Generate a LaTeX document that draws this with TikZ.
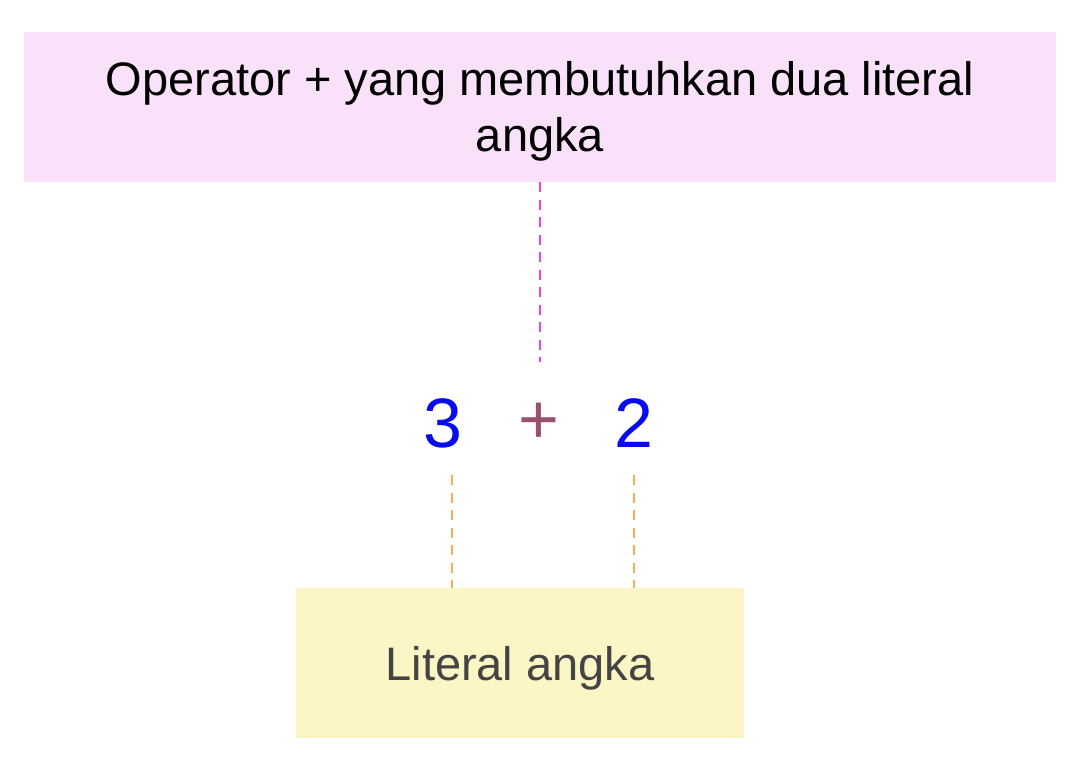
\documentclass[tikz,border=0pt]{standalone}
\usepackage{fontspec}
\setmainfont{Liberation Sans}
\begin{document}
\begin{tikzpicture}[x=1pt,y=-1pt,
  box/.style={draw=none,inner sep=0pt,align=center},
  label/.style={inner sep=0pt,align=center,font=\fontsize{47}{56}\selectfont},
  digit/.style={inner sep=0pt,font=\fontsize{70}{70}\selectfont},
  conn/.style={line width=2.6pt,dash pattern=on 10pt off 7.5pt}]
\definecolor{pinkfill}{HTML}{F9E1FA}
\definecolor{yellowfill}{HTML}{FCF5C5}
\definecolor{magline}{HTML}{E83EF5}
\definecolor{orline}{HTML}{F4AE4E}
\definecolor{numblue}{HTML}{0A0AF0}
\definecolor{opcol}{HTML}{9A5070}
\definecolor{darktext}{HTML}{444444}
\useasboundingbox (0,0) rectangle (1074,758);
\node[box,fill=pinkfill,minimum width=1032pt,minimum height=150pt] (op) at (540,107) {};
\node[label] (optext) at ([yshift=-4pt]op.center)
  {Operator + yang membutuhkan dua literal\\angka};
\node[box,fill=yellowfill,minimum width=448pt,minimum height=150pt] (lit) at (520,663) {};
\node[label,text=darktext] (littext) at ([yshift=-5pt]lit.center) {Literal angka};
\node[digit,text=numblue] (n3) at (443,423) {3};
\node[digit,text=opcol] (plus) at (539,423) {+};
\node[digit,text=numblue] (n2) at (634,423) {2};
\coordinate (pt) at (540,362);
\coordinate (a3) at (452,475);
\coordinate (a2) at (634,475);
\draw[conn,magline] (op.south -| pt) -- (pt);
\draw[conn,orline] (a3) -- (a3 |- lit.north);
\draw[conn,orline] (a2) -- (a2 |- lit.north);
\end{tikzpicture}
\end{document}
